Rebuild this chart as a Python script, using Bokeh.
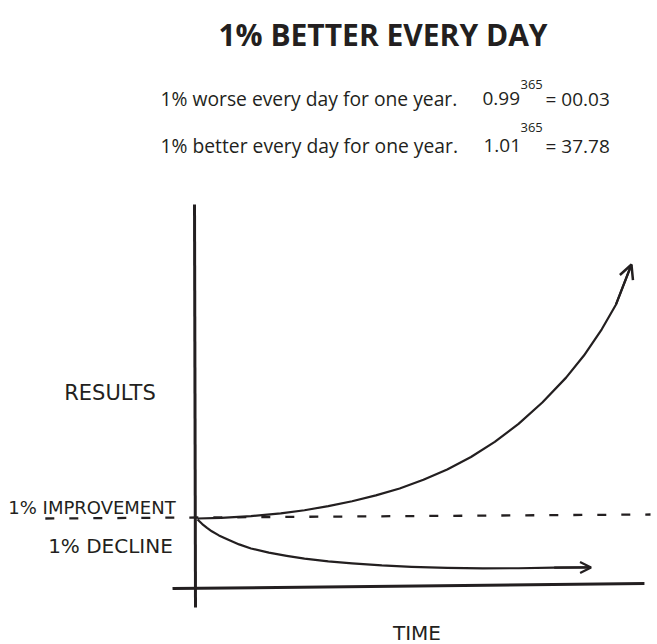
from bokeh.plotting import figure
from bokeh.models import Range1d, Label, Arrow, OpenHead
from bokeh.embed import file_html
from bokeh.resources import INLINE

# ---------------- data ----------------
title_text = "1% BETTER EVERY DAY"
worse_text = "1% worse every day for one year."
better_text = "1% better every day for one year."
worse_base = "0.99"
better_base = "1.01"
exponent = "365"
worse_result = "= 00.03"
better_result = "= 37.78"

y_label = "RESULTS"
x_label = "TIME"
improve_label = "1% IMPROVEMENT"
decline_label = "1% DECLINE"

# days vs results (baseline = 1)
improve_day = [0, 20, 45, 70, 90, 110, 130, 150, 170, 190, 210, 230, 250, 270, 290, 310, 325, 340, 352, 365]
improve_val = [1.00, 1.10, 1.35, 1.75, 2.2, 2.8, 3.5, 4.35, 5.35, 6.6, 8.1, 9.9, 12.1, 14.7, 17.8, 21.4, 24.6, 28.4, 32.0, 37.78]

decline_day = [0, 4, 8, 12, 18, 25, 35, 45, 60, 75, 90, 110, 130, 155, 180, 210, 240, 270, 300, 331]
decline_val = [0.85, 0.2, -0.35, -0.85, -1.45, -2.0, -2.75, -3.35, -3.95, -4.4, -4.8, -5.2, -5.5, -5.8, -6.0, -6.15, -6.22, -6.2, -6.12, -6.08]

baseline_day = [-128, 381]
baseline_val = [1.0, 1.58]

# ---------------- figure ----------------
W, H = 657, 644
INK = "#231f20"

p = figure(width=W, height=H, output_backend="svg", toolbar_location=None,
           x_range=Range1d(-165.69, 386.88), y_range=Range1d(-17.245, 76.01),
           min_border=0, outline_line_color=None)
p.xaxis.visible = False
p.yaxis.visible = False
p.grid.visible = False
p.background_fill_color = "white"
p.border_fill_color = "white"

# hand-drawn axes (crossing lines)
p.segment(x0=[-2.52], y0=[46.47], x1=[-1.68], y1=[-11.89], line_color=INK, line_width=3)
p.segment(x0=[-21.0], y0=[-9.14], x1=[375.9], y1=[-8.41], line_color=INK, line_width=3)

# dashed baseline
p.line(baseline_day, baseline_val, line_color=INK, line_width=2.3, line_dash="9 15")

# curves
p.line(improve_day, improve_val, line_color=INK, line_width=2.2, line_join="round")
p.line(decline_day, decline_val, line_color=INK, line_width=2.2, line_join="round")

p.add_layout(Arrow(end=OpenHead(size=14, line_width=2.5, line_color=INK),
                   x_start=improve_day[-2], y_start=improve_val[-2],
                   x_end=improve_day[-1], y_end=improve_val[-1],
                   line_color=INK, line_width=2.2))
p.add_layout(Arrow(end=OpenHead(size=11, line_width=2.2, line_color=INK),
                   x_start=decline_day[-2], y_start=decline_val[-2],
                   x_end=decline_day[-1], y_end=decline_val[-1],
                   line_color=INK, line_width=2.2))

# ---------------- texts ----------------
def lab(text, x, y, size, align="left", font="Open Sans", style="normal"):
    p.add_layout(Label(x=x, y=H - y, x_units="screen", y_units="screen", text=text,
                       text_font=font, text_font_size=f"{size}px", text_font_style=style,
                       text_color=INK, text_align=align, text_baseline="alphabetic"))

lab(title_text, 382.5, 34, 30, align="center", style="bold")

lab(worse_text, 160, 98, 19.3)
lab(worse_base, 482, 98, 19)
lab(exponent, 520, 84, 13)
lab(worse_result, 545, 98, 19)

lab(better_text, 160, 145, 19.3)
lab(better_base, 483, 145, 19)
lab(exponent, 520, 127, 13)
lab(better_result, 545, 145, 19)

HAND = "DejaVu Sans"
lab(y_label, 109.5, 392, 21, align="center", font=HAND)
lab(improve_label, 91.5, 507, 18, align="center", font=HAND)
lab(decline_label, 110, 545, 20, align="center", font=HAND)
lab(x_label, 416.5, 632, 20, align="center", font=HAND)

open("out.html", "w").write(file_html(p, INLINE))
